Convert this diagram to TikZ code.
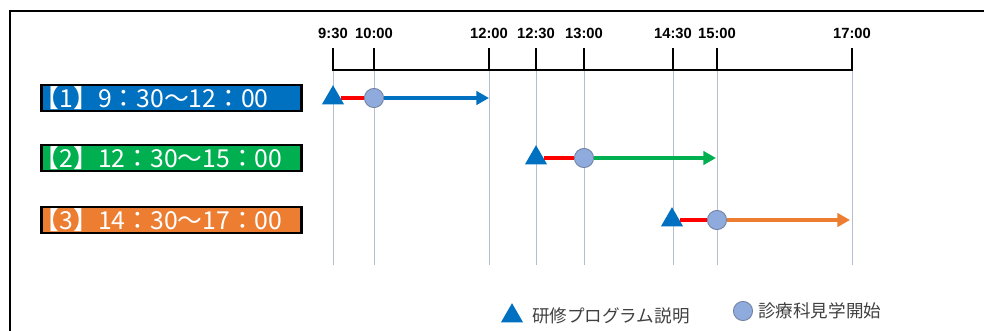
\documentclass[tikz,border=0pt]{standalone}
\usepackage{fontspec}
\setmainfont{Liberation Sans}
\newfontfamily\jpfont{Noto Sans CJK JP}
\usetikzlibrary{shapes.geometric, arrows.meta, positioning}
\definecolor{slotblue}{HTML}{0070C0}
\definecolor{slotgreen}{HTML}{00B050}
\definecolor{slotorange}{HTML}{ED7D31}
\definecolor{introred}{HTML}{FF0000}
\definecolor{visitfill}{HTML}{8FAADC}
\definecolor{visitdraw}{HTML}{6F80A0}
\definecolor{guidegray}{HTML}{B4BECE}

\begin{document}
\begin{tikzpicture}[x=0.025cm, y=-0.025cm]
    \tikzstyle{slot}=[draw=black, line width=2pt, text=white, anchor=west, text height=0.55cm, text depth=0.1cm, text width=6.45cm, align=left, inner xsep=0.025cm, inner ysep=0pt, font=\jpfont\fontsize{17.6}{17.6}\selectfont]
    \tikzstyle{intro}=[regular polygon, regular polygon sides=3, fill=slotblue, inner sep=0pt, minimum size=0.64cm]
    \tikzstyle{visit}=[circle, fill=visitfill, draw=visitdraw, line width=0.6pt, inner sep=0pt, minimum size=0.48cm]
    \tikzstyle{timelbl}=[font=\bfseries\fontsize{10.5}{12}\selectfont, inner sep=0pt]
    \tikzstyle{axis}=[line width=2pt]
    \tikzstyle{guide}=[guidegray, line width=0.7pt]
    \tikzstyle{keytxt}=[font=\jpfont\fontsize{12.5}{12.5}\selectfont, text=black!75, inner sep=0pt]

    % Frame (runs off the page at right and bottom)
    \clip (0,0) rectangle (984,330);
    \draw[line width=2pt] (10,345) -- (10,11) -- (1000,11);

    % Time axis with ticks and guide lines
    \foreach \x/\lbl [count=\i] in {333/9:30, 374/10:00, 489/12:00, 536/12:30, 584/13:00, 673/14:30, 717/15:00, 852/17:00} {
        \coordinate (tick\i) at (\x,70);
        \node[timelbl] (lbl\i) at (\x,33) {\lbl};
        \draw[guide] (tick\i) -- ++(0,195);
        \draw[axis] (\x,71) -- ++(0,-23);
    }
    \draw[axis] (tick1) -- (tick8);

    % Time slots
    \foreach \y/\col/\txt/\xs/\xv/\xe [count=\i] in {
        98/slotblue/{【1】9：30～12：00}/333/374/489,
        158/slotgreen/{【2】12：30～15：00}/536/584/716,
        220/slotorange/{【3】14：30～17：00}/672/717/850} {
        \node[slot, fill=\col] (slot\i) at (40,\y) {\hspace{-0.3em}\txt};
        \node[intro] (st\i) at (\xs,\y) {};
        \node[visit] (vis\i) at (\xv,\y) {};
        \coordinate (end\i) at (\xe,\y);
        \draw[introred, line width=2.8pt] (st\i) -- (vis\i);
        \draw[\col, line width=2.8pt, -{Triangle[length=9pt, width=9.5pt]}] (vis\i) -- (end\i);
    }

    % Legend
    \node[intro] (keyst) at (512,316) {};
    \node[keytxt, right=0.3cm of keyst] (keysttxt) {研修プログラム説明};
    \node[visit] (keyvis) at (743,311) {};
    \node[keytxt, right=0.12cm of keyvis] (keyvistxt) {診療科見学開始};
\end{tikzpicture}
\end{document}
